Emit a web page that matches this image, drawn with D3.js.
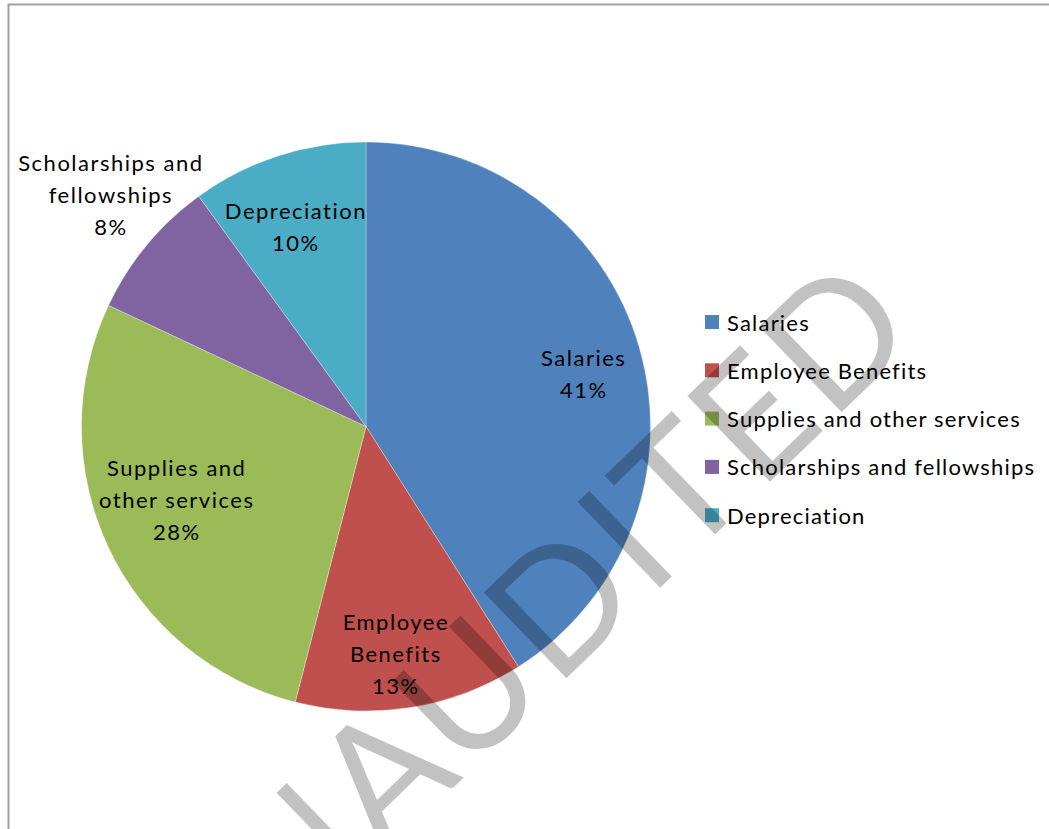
<!DOCTYPE html>
<html><head><meta charset="utf-8">
<script src="https://cdn.jsdelivr.net/npm/d3@7"></script>
<style>
  body { margin: 0; background: #fff; }
  svg { display: block; }
</style>
</head><body>
<svg id="chart" width="1049" height="829"></svg>
<script>
// Expense breakdown
const categories = ["Salaries", "Employee Benefits", "Supplies and other services", "Scholarships and fellowships", "Depreciation"];
const shares = [41, 13, 28, 8, 10];
const percentLabels = ["41%", "13%", "28%", "8%", "10%"];
const labelLines = [["Salaries"], ["Employee", "Benefits"], ["Supplies and", "other services"], ["Scholarships and", "fellowships"], ["Depreciation"]];
const sliceColors = ["#4F81BD", "#C0504D", "#9BBB59", "#8064A2", "#4BACC6"];
// label placement: radius as a fraction of the pie radius, and a small angular nudge (degrees)
const labelRadius = [0.785, 0.804, 0.715, 1.214, 0.746];
const labelAngleShift = [2.5, 1.7, 4.3, 2.6, -1.5];
const stampText = "UNAUDITED";

const svg = d3.select("#chart");
const cx = 366, cy = 426.5, R = 284.5;
const font = "Lato, 'Open Sans', sans-serif";

// chart area frame
svg.append("rect")
  .attr("x", 8.5).attr("y", 4.5).attr("width", 1060).attr("height", 840)
  .attr("fill", "#fff").attr("stroke", "#a0a0a0").attr("stroke-width", 2);

const data = categories.map((c, i) => ({ name: c, value: shares[i], i }));
const pie = d3.pie().value(d => d.value).sort(null);
const arcs = pie(data);
const arc = d3.arc().innerRadius(0).outerRadius(R);

const g = svg.append("g").attr("transform", `translate(${cx},${cy})`);
g.selectAll("path.slice").data(arcs).join("path")
  .attr("class", "slice")
  .attr("d", arc)
  .attr("fill", d => sliceColors[d.data.i])
  .attr("stroke", "#ffffff").attr("stroke-opacity", 0.5).attr("stroke-width", 0.6);

// data labels
const lineH = 32;
arcs.forEach(a => {
  const i = a.data.i;
  const mid = (a.startAngle + a.endAngle) / 2 + labelAngleShift[i] * Math.PI / 180;
  const r = labelRadius[i] * R;
  const x = Math.sin(mid) * r, y = -Math.cos(mid) * r;
  const lines = labelLines[i].concat([percentLabels[i]]);
  const t = g.append("text")
    .attr("text-anchor", "middle")
    .attr("font-family", font).attr("font-size", 22)
    .attr("letter-spacing", 1.5)
    .attr("fill", "#000");
  const top = y - (lines.length - 1) * lineH / 2;
  lines.forEach((ln, k) => {
    t.append("tspan").attr("x", x + 0.75).attr("y", top + k * lineH)
      .attr("dominant-baseline", "central").text(ln);
  });
});

// legend
const legend = svg.append("g").attr("transform", "translate(705,322)");
const rowH = 48.3;
categories.forEach((c, i) => {
  const row = legend.append("g").attr("transform", `translate(0,${i * rowH})`);
  row.append("rect").attr("x", 0).attr("y", -7).attr("width", 14).attr("height", 14)
    .attr("fill", sliceColors[i]);
  row.append("text").attr("x", 22).attr("y", 0)
    .attr("dominant-baseline", "central")
    .attr("font-family", font).attr("font-size", 22).attr("letter-spacing", 1.2)
    .attr("fill", "#000").text(c);
});

// diagonal stamp across the chart
const stamp = svg.append("g").attr("transform", "translate(666,582) rotate(-44)");
const st = stamp.append("text")
  .attr("font-family", font).attr("font-size", 166)
  .attr("letter-spacing", 4)
  .attr("fill", "#000").attr("fill-opacity", 0.24)
  .attr("x", 0).attr("y", 0)
  .text(stampText);
const node = st.node();
const iPos = stampText.indexOf("I");
const before = node.getSubStringLength(0, iPos);
const iw = node.getSubStringLength(iPos, 1);
st.attr("x", -(before + (iw - 4) / 2));
</script>
</body></html>
